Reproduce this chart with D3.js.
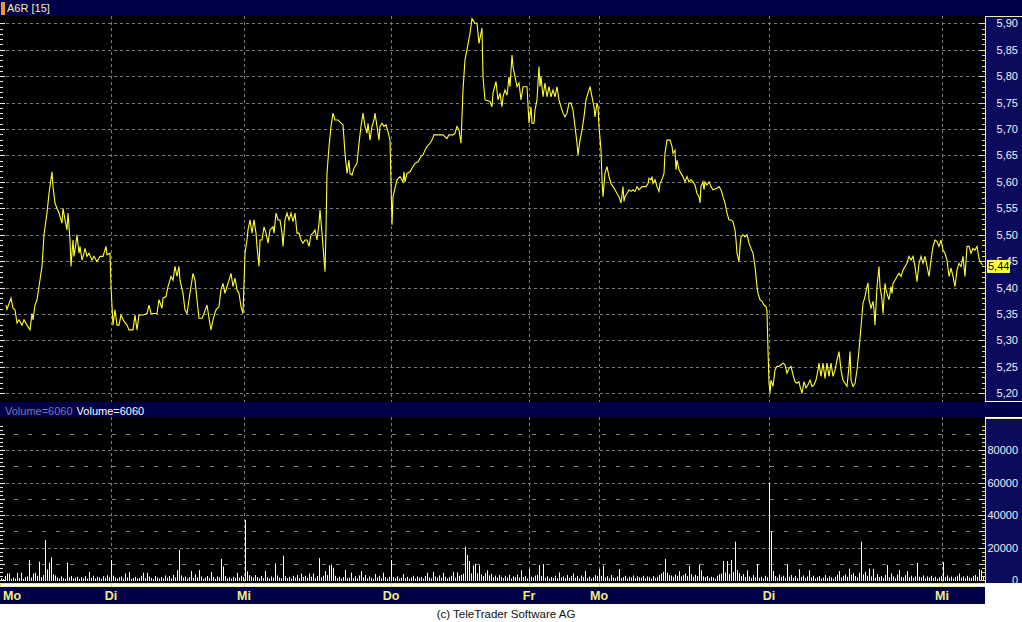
<!DOCTYPE html>
<html><head><meta charset="utf-8">
<script src="https://cdn.jsdelivr.net/npm/d3@7"></script>
<style>html,body{margin:0;padding:0;background:#fff;}svg{display:block;}</style>
</head><body>
<svg id="c" width="1022" height="622"></svg>
<script>
// ---------- DATA ----------
const title = "A6R [15]";
const volTitle = "Volume=6060";
const footer = "(c) TeleTrader Software AG";
const dayLabels = ["Mo","Di","Mi","Do","Fr","Mo","Di","Mi"];
const dayStart  = [0,111,244,391,529,599,769,942];          // time slot where each day starts
const priceTicks = [5.20,5.25,5.30,5.35,5.40,5.45,5.50,5.55,5.60,5.65,5.70,5.75,5.80,5.85,5.90];
const volTicks = [0,20000,40000,60000,80000];
const lastPrice = 5.44;
const priceT = [6,7,11,13,15,17,19,22,24,27,30,32,33,35,37,39,42,44,47,49,52,53,55,57,59,62,63,65,67,68,70,71,73,74,76,77,79,80,82,84,85,87,89,92,94,97,100,103,106,107,110,
111,113,115,117,119,121,124,127,129,133,135,137,139,143,147,149,151,157,159,162,163,166,168,171,173,175,177,179,180,183,185,187,189,191,193,195,197,199,202,204,207,209,211,213,216,219,221,223,225,227,229,231,233,235,237,239,241,243,
245,247,248,250,252,254,256,257,259,260,262,264,266,268,270,273,274,276,278,280,282,283,285,287,289,291,293,295,297,299,301,303,305,307,309,311,313,315,317,319,320,322,323,325,326,327,329,331,333,335,338,341,343,345,347,349,350,352,354,357,359,361,363,365,367,368,370,372,374,375,377,379,380,382,384,386,388,390,
392,393,395,397,400,403,404,405,407,410,413,415,418,421,423,425,427,430,432,434,437,440,443,447,449,453,455,457,459,461,463,465,467,470,472,475,477,479,482,483,485,490,492,493,496,498,500,502,503,505,507,509,510,512,513,515,517,519,521,523,527,
529,531,532,534,535,537,539,540,541,543,545,547,549,551,553,555,557,559,561,563,565,567,569,571,573,575,577,578,580,582,584,586,588,590,592,594,595,597,598,
599,601,602,603,605,607,609,611,613,615,617,619,621,623,624,625,627,629,631,633,635,637,639,642,646,648,649,651,652,653,655,657,659,660,661,663,664,665,667,670,672,673,675,676,677,679,681,683,685,687,689,691,693,695,697,699,700,701,703,704,705,707,709,711,713,717,719,721,723,725,727,729,731,733,735,736,737,739,740,741,743,745,747,749,751,753,755,757,758,760,762,764,766,767,
768,769,770,771,773,775,777,779,781,783,785,787,789,791,793,795,797,799,800,802,804,806,808,810,812,814,816,818,819,821,823,825,827,829,831,833,835,837,839,841,843,845,847,849,850,851,853,855,857,859,861,863,865,867,868,869,871,873,874,875,877,879,880,882,883,885,886,887,889,891,892,893,895,897,899,901,903,905,907,909,911,913,915,917,919,921,923,925,927,929,931,933,935,937,939,941,
943,945,947,949,951,953,955,957,959,961,963,965,967,969,971,973,975,977,979,981,983];
const price = [5.367,5.359,5.380,5.361,5.358,5.333,5.339,5.329,5.339,5.329,5.320,5.351,5.339,5.367,5.377,5.402,5.440,5.500,5.541,5.578,5.619,5.591,5.560,5.550,5.541,5.522,5.550,5.528,5.509,5.541,5.490,5.440,5.490,5.459,5.484,5.500,5.465,5.478,5.452,5.465,5.474,5.459,5.465,5.452,5.459,5.449,5.459,5.459,5.478,5.462,5.465,
5.402,5.329,5.358,5.329,5.329,5.348,5.336,5.329,5.320,5.320,5.348,5.320,5.348,5.348,5.351,5.367,5.351,5.351,5.377,5.361,5.380,5.383,5.402,5.421,5.414,5.440,5.421,5.440,5.414,5.389,5.358,5.351,5.377,5.402,5.427,5.414,5.377,5.342,5.342,5.351,5.367,5.342,5.320,5.339,5.358,5.364,5.396,5.408,5.389,5.402,5.414,5.427,5.402,5.418,5.396,5.389,5.364,5.351,
5.465,5.490,5.509,5.528,5.503,5.528,5.503,5.478,5.440,5.490,5.490,5.515,5.503,5.484,5.509,5.515,5.503,5.541,5.528,5.528,5.503,5.478,5.528,5.541,5.528,5.541,5.525,5.541,5.503,5.503,5.490,5.484,5.490,5.490,5.478,5.500,5.503,5.509,5.490,5.522,5.547,5.503,5.478,5.430,5.509,5.616,5.667,5.705,5.730,5.717,5.717,5.711,5.708,5.654,5.616,5.641,5.616,5.613,5.626,5.635,5.673,5.705,5.730,5.705,5.692,5.711,5.679,5.705,5.717,5.730,5.705,5.679,5.705,5.711,5.705,5.708,5.695,5.679,
5.519,5.572,5.588,5.604,5.610,5.600,5.619,5.600,5.616,5.619,5.629,5.635,5.638,5.648,5.651,5.660,5.667,5.673,5.679,5.689,5.689,5.689,5.689,5.682,5.689,5.689,5.692,5.705,5.698,5.673,5.774,5.831,5.850,5.881,5.909,5.900,5.900,5.862,5.891,5.799,5.755,5.752,5.742,5.768,5.790,5.755,5.768,5.742,5.761,5.774,5.764,5.799,5.780,5.840,5.818,5.799,5.780,5.787,5.755,5.780,5.780,
5.711,5.742,5.711,5.711,5.736,5.755,5.818,5.780,5.799,5.761,5.787,5.761,5.780,5.761,5.774,5.761,5.780,5.755,5.742,5.730,5.723,5.730,5.749,5.749,5.736,5.705,5.673,5.651,5.679,5.698,5.723,5.755,5.768,5.780,5.761,5.742,5.723,5.749,5.742,
5.705,5.660,5.604,5.572,5.616,5.629,5.610,5.597,5.591,5.585,5.578,5.572,5.560,5.591,5.563,5.572,5.578,5.585,5.582,5.585,5.582,5.591,5.585,5.591,5.591,5.597,5.607,5.604,5.610,5.597,5.604,5.591,5.582,5.597,5.600,5.610,5.616,5.654,5.679,5.679,5.667,5.654,5.660,5.623,5.641,5.623,5.616,5.610,5.600,5.610,5.600,5.604,5.600,5.594,5.578,5.572,5.560,5.591,5.600,5.585,5.600,5.594,5.600,5.591,5.585,5.588,5.591,5.585,5.572,5.560,5.541,5.528,5.528,5.525,5.509,5.490,5.465,5.449,5.478,5.496,5.500,5.496,5.500,5.484,5.474,5.465,5.440,5.402,5.389,5.377,5.374,5.367,5.364,5.355,
5.282,5.219,5.200,5.225,5.213,5.244,5.251,5.251,5.254,5.257,5.254,5.238,5.247,5.251,5.235,5.222,5.219,5.222,5.213,5.200,5.222,5.210,5.216,5.225,5.213,5.216,5.225,5.244,5.257,5.232,5.257,5.228,5.257,5.232,5.257,5.232,5.244,5.263,5.279,5.244,5.225,5.219,5.213,5.251,5.279,5.225,5.213,5.219,5.244,5.282,5.326,5.370,5.383,5.402,5.409,5.377,5.361,5.374,5.358,5.329,5.402,5.440,5.402,5.377,5.351,5.408,5.396,5.389,5.377,5.402,5.389,5.408,5.414,5.421,5.427,5.421,5.433,5.440,5.446,5.459,5.452,5.459,5.440,5.411,5.446,5.459,5.446,5.459,5.440,5.421,5.452,5.478,5.490,5.487,5.478,5.490,
5.471,5.465,5.452,5.421,5.437,5.421,5.402,5.433,5.446,5.440,5.459,5.421,5.478,5.478,5.465,5.474,5.471,5.478,5.455,5.446,5.443];
// volume per slot (one slot = 2 time units)
const volume = [1200,600,2500,4000,4000,800,1500,900,4500,1200,4500,700,1800,2200,12300,1500,4000,4500,2600,11300,
1800,3000,24600,6500,10700,14000,3500,2800,1500,900,2200,1200,800,10700,1600,2400,900,1300,2000,700,
1800,1100,2400,900,5000,1300,2600,1000,2000,1500,800,2300,1200,2900,1800,12300,2700,1500,900,1700,
2200,1000,4000,1500,5000,800,1300,2000,900,1200,2600,4500,1100,4500,2100,1300,700,2400,1500,1000,
1800,900,2800,1400,2400,1000,3100,1600,6000,18500,2800,1500,2200,900,1800,5500,1200,3400,1600,6200,
2200,900,1500,2500,1100,5000,1900,800,2200,1600,13000,8200,2400,1000,1700,900,2000,1300,4500,1400,
2600,1800,37000,5300,3000,2200,1400,3000,1800,1000,2500,1200,5500,1600,900,2200,1400,10250,2800,1500,
1000,15000,2400,1200,1900,800,2600,1400,3000,1100,4000,1800,2600,1300,4000,2000,4000,1200,2400,13500,
1600,2600,5500,3000,9000,9500,7500,2600,1200,2000,800,1800,6200,1000,1500,4500,1200,2300,900,2800,
5500,1600,3000,1000,2200,1400,800,3700,1500,2600,1000,4500,1700,900,2000,12300,1800,1200,2200,900,
1400,3700,1100,2000,800,1600,2600,1000,2200,1300,1800,900,2500,4500,1600,1000,5000,2200,1400,2800,
1200,4500,2000,1000,1800,2600,5000,1300,4700,2600,3200,3800,20500,15400,11700,4000,9000,10000,4200,9000,
3500,2400,4200,6000,2800,3800,1600,2700,1400,3000,2000,1200,2600,1500,3200,1000,2200,1800,3300,1500,
6000,1800,2400,1000,6800,2000,1500,2700,3100,9200,2500,9800,1400,2300,900,1800,1300,2600,1000,4700,
1600,2200,1100,3000,1400,2400,4000,1300,2500,1000,2800,1800,5500,1200,2100,900,1700,3000,2400,6800,
2600,8800,1500,2300,1000,3000,1600,1200,2200,6800,1100,1800,2600,900,2000,1500,2800,1100,2300,1600,
1400,2600,1000,2200,1700,900,2500,1300,2000,3000,4000,5000,12900,4500,3000,2800,2000,3400,2600,5500,
2200,3000,4000,2400,8600,3600,2000,3200,2400,9600,6000,2200,1800,2400,1200,2000,1500,900,2600,3500,
4000,11700,4600,11700,3800,12300,5000,23600,6000,4200,2400,3600,1800,6000,2200,1300,3000,1600,9800,1400,
2000,1000,2600,1700,60000,30000,5500,2400,1400,3400,1800,2600,1200,9600,2000,3000,1400,2400,1000,6600,
1800,2800,1300,2200,6000,1600,2600,1000,1800,2400,900,1500,3000,1200,2200,1600,800,2000,3200,5500,
1600,2600,3400,2000,7000,3200,4200,2400,1600,4500,23600,3400,5000,2600,7000,2200,6800,1400,3600,1800,
2400,1200,3000,9200,1600,4000,2200,1200,3400,6000,2000,1500,3000,5500,1800,2600,1300,2200,10500,2000,
1600,2800,1000,2200,1500,2600,1200,2000,900,1700,2400,11000,1800,2800,1400,2200,1000,1800,2600,4000,
1400,2200,1000,2600,1600,1200,2400,3000,2000,6500,6000,2400];

// ---------- LAYOUT / STYLE ----------
const navy = "#000048", panel = "#0b0b5e", cream = "#f4eab0", tickCol = "#e8d880";
const gridCol = "#7a7a7a";
const plotR = 985;
const pTop = 16, pBot = 402, vTop = 417, vBot = 583;

const svg = d3.select("#c");
const font = "'Liberation Sans', Arial, sans-serif";

const x = d3.scaleLinear().domain([0, 985]).range([0, plotR]);
const y = d3.scaleLinear().domain([5.20, 5.90]).range([393.3, 23.3]);
const yv = d3.scaleLinear().domain([0, 80000]).range([580, 450]);

// backgrounds
svg.append("rect").attr("width",1022).attr("height",622).attr("fill","#fff");
svg.append("rect").attr("x",0).attr("y",0).attr("width",1022).attr("height",pTop).attr("fill",navy);
svg.append("rect").attr("x",0).attr("y",pTop).attr("width",plotR).attr("height",pBot-pTop).attr("fill","#000");
svg.append("rect").attr("x",plotR).attr("y",pTop).attr("width",1022-plotR).attr("height",pBot-pTop-1).attr("fill",panel);
svg.append("rect").attr("x",0).attr("y",pBot).attr("width",1022).attr("height",vTop-pBot).attr("fill",navy);
svg.append("rect").attr("x",0).attr("y",vTop).attr("width",plotR).attr("height",vBot-vTop).attr("fill","#000");
svg.append("rect").attr("x",plotR).attr("y",vTop+1).attr("width",1022-plotR).attr("height",vBot-vTop-1).attr("fill",panel);
svg.append("rect").attr("x",0).attr("y",587).attr("width",plotR).attr("height",17).attr("fill",navy);

// header texts
svg.append("rect").attr("x",1).attr("y",2).attr("width",4).attr("height",13).attr("fill","#f39a1c");
svg.append("text").attr("x",7).attr("y",12).attr("font-family",font).attr("font-size",11)
  .attr("fill","#f4f0a8").text(title);
const vt = svg.append("text").attr("x",5).attr("y",415).attr("font-family",font).attr("font-size",11);
vt.append("tspan").attr("fill","#7c7ca6").text(volTitle);
vt.append("tspan").attr("fill","#ffffff").attr("dx",4).text(volTitle);

// price grid
const gP = svg.append("g");
gP.selectAll("line.h").data(priceTicks).join("line")
  .attr("x1",0).attr("x2",plotR).attr("y1",d=>Math.round(y(d))+0.5).attr("y2",d=>Math.round(y(d))+0.5)
  .attr("stroke",gridCol).attr("stroke-dasharray","3,3");
gP.selectAll("line.v").data(dayStart.slice(1)).join("line")
  .attr("x1",d=>Math.round(x(d))+0.5).attr("x2",d=>Math.round(x(d))+0.5).attr("y1",pTop).attr("y2",pBot)
  .attr("stroke",gridCol).attr("stroke-dasharray","3,3");

// volume grid
const vGrid = d3.range(10000, 100000, 10000);
svg.selectAll("line.vh").data(vGrid).join("line")
  .attr("x1",0).attr("x2",plotR).attr("y1",d=>Math.round(yv(d))+0.5).attr("y2",d=>Math.round(yv(d))+0.5)
  .attr("stroke",gridCol).attr("stroke-dasharray",d=>(d%20000===0)?"3,3":"4,10");
svg.selectAll("line.vv").data(dayStart.slice(1)).join("line")
  .attr("x1",d=>Math.round(x(d))+0.5).attr("x2",d=>Math.round(x(d))+0.5).attr("y1",vTop).attr("y2",vBot)
  .attr("stroke",gridCol).attr("stroke-dasharray","3,3");

// price line
const clip = svg.append("clipPath").attr("id","pc").append("rect")
  .attr("x",0).attr("y",pTop).attr("width",plotR).attr("height",pBot-pTop);
const pts = priceT.map((t,i)=>[t, price[i]]);
svg.append("path").attr("clip-path","url(#pc)")
  .attr("d", d3.line().x(d=>x(d[0])).y(d=>y(d[1]))(pts))
  .attr("fill","none").attr("stroke","#ffff30").attr("stroke-width",1.1);

// volume bars
svg.append("g").selectAll("rect").data(volume).join("rect")
  .attr("x",(d,i)=>Math.round(x(2*i+1)))
  .attr("width",1)
  .attr("y",d=>Math.min(yv(d), 579))
  .attr("height",d=>581 - Math.min(yv(d), 579))
  .attr("fill","#ffffff");

// right axes (price)
const fmt = d=>d3.format(".2f")(d).replace(".", ",");
svg.append("line").attr("x1",plotR+0.5).attr("x2",plotR+0.5).attr("y1",pTop).attr("y2",pBot-1).attr("stroke",cream);
svg.append("line").attr("x1",plotR).attr("x2",1022).attr("y1",pTop+0.5).attr("y2",pTop+0.5).attr("stroke",cream);
const minorP = d3.range(520, 591).map(v=>v/100);
svg.selectAll("line.rt").data(minorP).join("line")
  .attr("x1",d=>(Math.round(d*100)%5===0)?plotR-6:plotR-3).attr("x2",plotR)
  .attr("y1",d=>Math.round(y(d))+0.5).attr("y2",d=>Math.round(y(d))+0.5).attr("stroke",tickCol);
svg.selectAll("line.lt").data(minorP).join("line")
  .attr("x1",0).attr("x2",d=>(Math.round(d*100)%5===0)?5:3)
  .attr("y1",d=>Math.round(y(d))+0.5).attr("y2",d=>Math.round(y(d))+0.5).attr("stroke","#e8e8e8");
svg.selectAll("text.pl").data(priceTicks).join("text")
  .attr("x",1018).attr("y",d=>y(d)+4).attr("text-anchor","end")
  .attr("font-family",font).attr("font-size",11).attr("fill","#f0f0f0").text(fmt);

// last price marker
svg.append("rect").attr("x",987).attr("y",y(lastPrice)-6.5).attr("width",23).attr("height",13).attr("fill","#ffff44");
svg.append("text").attr("x",988).attr("y",y(lastPrice)+4).attr("font-family",font).attr("font-size",11)
  .attr("fill","#000").text(fmt(lastPrice));

// right axes (volume)
svg.append("line").attr("x1",plotR+0.5).attr("x2",plotR+0.5).attr("y1",vTop+1).attr("y2",vBot).attr("stroke",cream);
svg.append("line").attr("x1",plotR).attr("x2",1022).attr("y1",vTop+1.5).attr("y2",vTop+1.5).attr("stroke",cream);
const minorV = d3.range(0, 97500, 2500);
svg.selectAll("line.vrt").data(minorV).join("line")
  .attr("x1",d=>(d%10000===0)?plotR-6:plotR-3).attr("x2",plotR)
  .attr("y1",d=>Math.round(yv(d))+0.5).attr("y2",d=>Math.round(yv(d))+0.5).attr("stroke",tickCol);
svg.selectAll("line.vlt").data(minorV).join("line")
  .attr("x1",0).attr("x2",d=>(d%10000===0)?5:3)
  .attr("y1",d=>Math.round(yv(d))+0.5).attr("y2",d=>Math.round(yv(d))+0.5).attr("stroke","#e8e8e8");
svg.selectAll("text.vl").data(volTicks).join("text")
  .attr("x",1018).attr("y",d=>yv(d)+4).attr("text-anchor","end")
  .attr("font-family",font).attr("font-size",11).attr("fill","#f0f0f0").text(d=>d);

// bottom time axis
svg.append("line").attr("x1",0).attr("x2",plotR).attr("y1",583.5).attr("y2",583.5).attr("stroke","#d8d8c8");
svg.append("line").attr("x1",0).attr("x2",plotR).attr("y1",586.5).attr("y2",586.5).attr("stroke",cream);
svg.selectAll("line.dt").data(dayStart).join("line")
  .attr("x1",d=>Math.round(x(d))+0.5).attr("x2",d=>Math.round(x(d))+0.5).attr("y1",583).attr("y2",587).attr("stroke",tickCol);
svg.selectAll("text.day").data(dayLabels).join("text")
  .attr("x",(d,i)=> i===0 ? 3 : x(dayStart[i]))
  .attr("y",600).attr("text-anchor",(d,i)=> i===0 ? "start" : "middle")
  .attr("font-family",font).attr("font-size",12.5).attr("font-weight","bold").attr("fill","#f4ec84")
  .text(d=>d);

// footer
svg.append("text").attr("x",506).attr("y",618).attr("text-anchor","middle")
  .attr("font-family",font).attr("font-size",11.5).attr("fill","#111").text(footer);
</script>
</body></html>
